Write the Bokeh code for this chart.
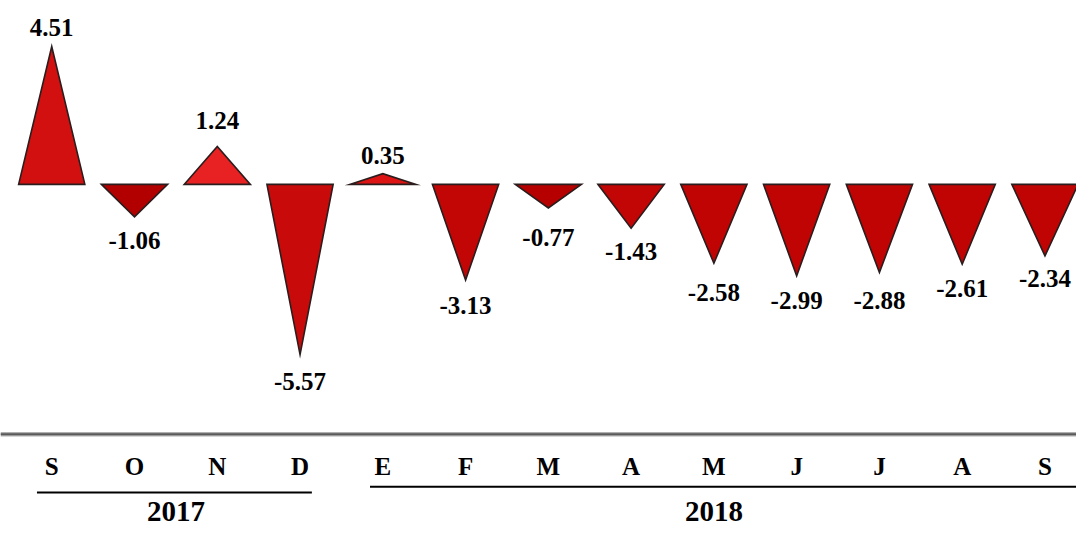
from bokeh.plotting import figure
from bokeh.models import Range1d, ColumnDataSource
from bokeh.core.properties import value
from bokeh.embed import file_html
from bokeh.resources import INLINE

# ---- data ----
months = ["S", "O", "N", "D", "E", "F", "M", "A", "M", "J", "J", "A", "S"]
values = [4.51, -1.06, 1.24, -5.57, 0.35, -3.13, -0.77, -1.43, -2.58, -2.99, -2.88, -2.61, -2.34]
years = ["2017", "2018"]
year_spans = [(0, 3), (4, 12)]

# ---- styles ----
tri_colors = ["#d21010", "#b20000", "#e82222", "#c80a0a", "#dc1414", "#c20606", "#b60000",
              "#c20505", "#c00404", "#c00404", "#c00404", "#c00404", "#c00404"]
label_dy = [-20, 24, -27, 28, -19, 26, 30, 24, 30, 25, 29, 25, 23]

W, H = 1076, 526
SX, SY = W / 1092.0, H / 542.0          # reference layout -> figure scale
PX_PER_CAT = 84.0 * SX
X0_PX = 52.0 * SX
PX_PER_UNIT = 31.5 * SY
BASE_PX = 189.5 * SY

x_start = -X0_PX / PX_PER_CAT
x_end = x_start + W / PX_PER_CAT
y_top = BASE_PX / PX_PER_UNIT
y_bot = -(H - BASE_PX) / PX_PER_UNIT


def py(ref_px):
    """reference pixel row -> data y"""
    return (BASE_PX - ref_px * SY) / PX_PER_UNIT


def px_x(ref_px):
    return x_start + ref_px * SX / PX_PER_CAT


FONT = value("Liberation Serif")

p = figure(width=W, height=H, output_backend="svg", toolbar_location=None,
           x_range=Range1d(x_start, x_end), y_range=Range1d(y_bot, y_top),
           min_border=0)
p.axis.visible = False
p.grid.visible = False
p.outline_line_color = None
p.background_fill_color = "white"
p.border_fill_color = "white"

half = 0.4
idx = list(range(len(values)))
xs = [[i - half, i, i + half] for i in idx]
ys = [[0, v, 0] for v in values]
p.patches(xs=xs, ys=ys, fill_color=tri_colors, line_color="#2b1d1d", line_width=1.6,
          line_join="miter")

lab_src = ColumnDataSource(dict(
    x=idx, y=values, t=[f"{v:.2f}" for v in values], dy=[d * SY for d in label_dy]))
p.text(x="x", y="y", text="t", source=lab_src, y_offset="dy",
       text_font=FONT, text_font_style="bold",
       text_font_size="25px", text_align="center", text_baseline="middle",
       text_color="black")

# thick gray separator line
p.line([x_start, x_end], [py(447), py(447)], line_color="#b0b0b0", line_width=4.5)
p.line([x_start, x_end], [py(447), py(447)], line_color="#5a5a5a", line_width=2)

# month labels
p.text(x=idx, y=[py(480)] * len(idx), text=months,
       text_font=FONT, text_font_style="bold",
       text_font_size="25px", text_align="center", text_baseline="middle",
       text_color="black")

# year underlines
p.line([px_x(37), px_x(316)], [py(507), py(507)], line_color="black", line_width=2)
p.line([px_x(375), x_end], [py(501), py(501)], line_color="black", line_width=2)

# year labels
yx = [(a + b) / 2 for a, b in year_spans]
p.text(x=yx, y=[py(527)] * 2, text=years,
       text_font=FONT, text_font_style="bold",
       text_font_size="29px", text_align="center", text_baseline="middle",
       text_color="black")

open("out.html", "w").write(file_html(p, INLINE))
